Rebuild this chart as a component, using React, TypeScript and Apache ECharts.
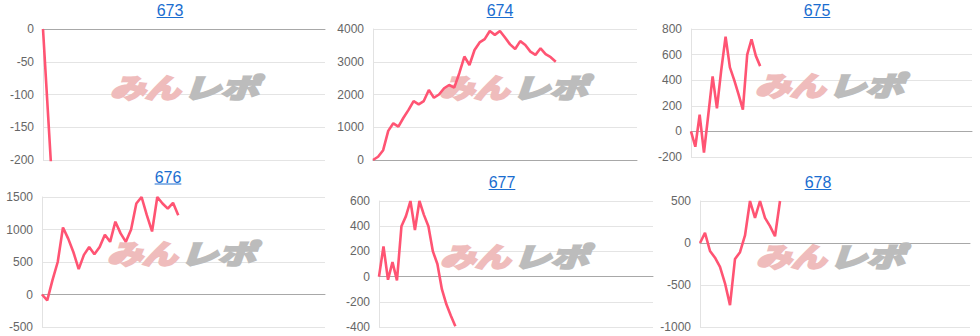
import React, { useEffect, useRef } from "react";
import * as echarts from "echarts";

// Panel titles (machine numbers)
const titles = ["673", "674", "675", "676", "677", "678"];

// Number of x-axis categories in each panel
const categoryCounts = [55, 53, 66, 55, 62, 55];

// Series values per panel
const values673 = [0, -135, -270, -405];
const values674 = [
  0, 100, 300, 890, 1120, 1020, 1290, 1530, 1800, 1700, 1800, 2140, 1900, 2000,
  2190, 2290, 2210, 2650, 3160, 2900, 3360, 3590, 3690, 3940, 3820, 3940, 3740,
  3530, 3390, 3630, 3510, 3310, 3210, 3410, 3230, 3140, 3000,
];
const values675 = [0, -120, 130, -165, 130, 430, 180, 480, 740, 500, 400, 290, 170, 600, 720, 590, 510];
const values676 = [
  0, -90, 220, 500, 1030, 860, 650, 390, 610, 730, 620, 730, 920, 810, 1120,
  940, 810, 1000, 1400, 1500, 1220, 970, 1500, 1400, 1320, 1410, 1220,
];
const values677 = [0, 240, -25, 115, -30, 400, 480, 600, 370, 600, 490, 400, 200, 100, -100, -220, -310, -395];
const values678 = [0, 120, -95, -175, -285, -480, -740, -190, -110, 90, 500, 300, 500, 300, 200, 80, 500];

const seriesValues = [values673, values674, values675, values676, values677, values678];

// Y-axis ranges
const yMins = [-200, 0, -200, -500, -400, -1000];
const yMaxs = [0, 4000, 800, 1500, 600, 500];
const yIntervals = [50, 1000, 200, 500, 200, 500];

// Layout (pixels)
const grids = [
  { left: 43, top: 29, width: 282, height: 131 },
  { left: 373, top: 29, width: 264, height: 131 },
  { left: 691, top: 29, width: 281, height: 128 },
  { left: 42, top: 197, width: 283, height: 130 },
  { left: 379, top: 201, width: 274, height: 126 },
  { left: 700, top: 201, width: 270, height: 126 },
];
const titlePos = [
  { x: 170, y: 10.5, u: 17.5 },
  { x: 500, y: 10.5, u: 17.5 },
  { x: 817, y: 10.5, u: 17.5 },
  { x: 168, y: 177, u: 184 },
  { x: 502, y: 182.5, u: 189.5 },
  { x: 818, y: 182.5, u: 189.5 },
];
const logoPos = [
  { x: 188, y: 86 },
  { x: 517, y: 86 },
  { x: 833, y: 84 },
  { x: 185, y: 252 },
  { x: 518, y: 255 },
  { x: 834, y: 255 },
];

const LINE_COLOR = "#ff5473";
const LINK_COLOR = "#1a6dd0";
const LABEL_FONT = 'Arial, "Liberation Sans", sans-serif';

export default function App() {
  const ref = useRef<HTMLDivElement>(null);

  useEffect(() => {
    if (!ref.current) return;
    const chart = echarts.init(ref.current, undefined, { renderer: "svg" });

    const graphic: any[] = [];
    titles.forEach((t, i) => {
      const p = titlePos[i];
      const w = t.length * 8.9;
      graphic.push({
        type: "text",
        x: p.x,
        y: p.y,
        z: 10,
        style: {
          text: t,
          fill: LINK_COLOR,
          font: `16px ${LABEL_FONT}`,
          textAlign: "center",
          textVerticalAlign: "middle",
        },
      });
      graphic.push({
        type: "line",
        z: 10,
        shape: { x1: p.x - w / 2, y1: p.u, x2: p.x + w / 2, y2: p.u },
        style: { stroke: LINK_COLOR, lineWidth: 1 },
      });
    });
    logoPos.forEach((p) => {
      graphic.push({
        type: "text",
        x: p.x - 78,
        y: p.y,
        z: 1,
        scaleX: 1.3,
        style: {
          text: "みん",
          fill: "#efbcbc",
          stroke: "#efbcbc",
          lineWidth: 2.6,
          lineJoin: "round",
          font: 'italic bold 27px "Noto Sans CJK JP"',
          textAlign: "left",
          textVerticalAlign: "middle",
        },
      });
      graphic.push({
        type: "text",
        x: p.x - 5,
        y: p.y,
        z: 1,
        scaleX: 1.4,
        style: {
          text: "レポ",
          fill: "#bcbcbc",
          stroke: "#bcbcbc",
          lineWidth: 2.6,
          lineJoin: "round",
          font: 'italic bold 27px "Noto Sans CJK JP"',
          textAlign: "left",
          textVerticalAlign: "middle",
        },
      });
    });

    const option: any = {
      animation: false,
      grid: grids.map((g) => ({ ...g, containLabel: false })),
      xAxis: grids.map((_, i) => ({
        type: "category",
        gridIndex: i,
        boundaryGap: false,
        data: Array.from({ length: categoryCounts[i] }, (_, k) => String(k + 1)),
        axisLabel: { show: false },
        axisTick: { show: false },
        axisLine: { show: true, onZero: true, lineStyle: { color: "#a8a8a8", width: 1 } },
        splitLine: { show: false },
      })),
      yAxis: grids.map((_, i) => ({
        type: "value",
        gridIndex: i,
        min: yMins[i],
        max: yMaxs[i],
        interval: yIntervals[i],
        axisLabel: {
          color: "#666",
          fontSize: 12,
          fontFamily: LABEL_FONT,
          margin: 9,
          formatter: (v: number) => String(v),
        },
        axisTick: { show: false },
        axisLine: { show: true, lineStyle: { color: "#e2e2e2" } },
        splitLine: { show: true, lineStyle: { color: "#e4e4e4" } },
      })),
      series: seriesValues.map((vals, i) => ({
        type: "line",
        xAxisIndex: i,
        yAxisIndex: i,
        data: vals,
        showSymbol: false,
        symbol: "none",
        clip: true,
        lineStyle: { color: LINE_COLOR, width: 2.6 },
        z: 5,
      })),
      graphic,
    };
    chart.setOption(option);
    return () => chart.dispose();
  }, []);

  return (
    <div
      ref={ref}
      style={{ position: "fixed", left: 0, top: 0, width: 980, height: 336, background: "#fff" }}
    />
  );
}
